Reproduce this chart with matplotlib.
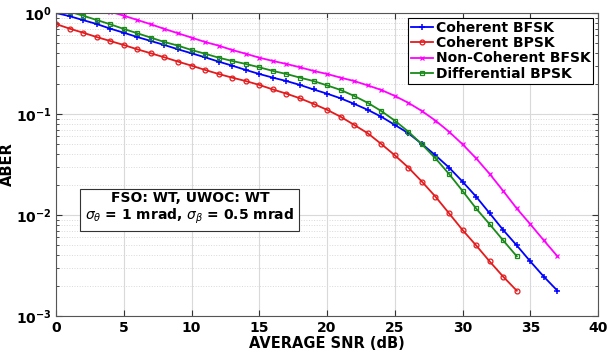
import numpy as np
import matplotlib
matplotlib.use("Agg")
import matplotlib.pyplot as plt
from matplotlib.ticker import FixedLocator, FuncFormatter, LogLocator, NullFormatter

# ABER values
snr_coh_bfsk = list(range(0, 38))
coh_bfsk = [1.0, 0.93, 0.85, 0.778, 0.70, 0.638, 0.578, 0.528, 0.482, 0.437,
            0.399, 0.364, 0.33, 0.301, 0.273, 0.249, 0.229, 0.212, 0.194, 0.175,
            0.159, 0.143, 0.126, 0.11, 0.094, 0.078, 0.0645, 0.0505, 0.039, 0.0295,
            0.0214, 0.0152, 0.0104, 0.0071, 0.005, 0.00347, 0.00245, 0.00178]

snr_coh_bpsk = list(range(0, 35))
coh_bpsk = [0.778, 0.70, 0.638, 0.578, 0.528, 0.482, 0.437, 0.399, 0.364, 0.33,
            0.301, 0.273, 0.249, 0.229, 0.212, 0.194, 0.175, 0.159, 0.143, 0.126,
            0.11, 0.094, 0.078, 0.0645, 0.0505, 0.039, 0.0295, 0.0214, 0.0152, 0.0104,
            0.0071, 0.005, 0.00347, 0.00245, 0.00178]

snr_nc_bfsk = list(range(4, 38))
nc_bfsk = [1.03, 0.94, 0.853, 0.773, 0.695, 0.63, 0.57, 0.516, 0.475, 0.43,
           0.395, 0.361, 0.335, 0.313, 0.29, 0.267, 0.249, 0.229, 0.212, 0.192,
           0.173, 0.151, 0.129, 0.107, 0.086, 0.0668, 0.0501, 0.0364, 0.0255, 0.0173,
           0.0116, 0.0081, 0.0056, 0.0039]

snr_diff_bpsk = list(range(1, 35))
diff_bpsk = [1.03, 0.94, 0.853, 0.773, 0.695, 0.63, 0.57, 0.516, 0.475, 0.43,
             0.395, 0.361, 0.335, 0.313, 0.29, 0.267, 0.249, 0.229, 0.212, 0.192,
             0.173, 0.151, 0.129, 0.107, 0.086, 0.0668, 0.0501, 0.0364, 0.0255, 0.0173,
             0.0116, 0.0081, 0.0056, 0.0039]

x_ticks = [0, 5, 10, 15, 20, 25, 30, 35, 40]

fig = plt.figure(figsize=(6.07, 3.59), dpi=100)
ax = fig.add_axes([0.0923, 0.1198, 0.893, 0.844])

ax.semilogy(snr_coh_bfsk, coh_bfsk, color="#0000FF", marker="+", ms=4.5, mew=1.1,
            lw=1.3, label="Coherent BFSK")
ax.semilogy(snr_coh_bpsk, coh_bpsk, color="#E41A1C", marker="o", ms=3.5, mfc="none",
            mew=0.9, lw=1.3, label="Coherent BPSK")
ax.semilogy(snr_nc_bfsk, nc_bfsk, color="#FF00FF", marker="x", ms=3.5, mew=0.9,
            lw=1.3, label="Non-Coherent BFSK")
ax.semilogy(snr_diff_bpsk, diff_bpsk, color="#1A8A1A", marker="s", ms=3.2, mfc="none",
            mew=0.9, lw=1.3, label="Differential BPSK")

ax.set_xlim(0, 40)
ax.set_ylim(1e-3, 1)
ax.xaxis.set_major_locator(FixedLocator(x_ticks))
ax.yaxis.set_major_locator(LogLocator(base=10, numticks=10))
ax.yaxis.set_minor_locator(LogLocator(base=10, subs=np.arange(2, 10), numticks=10))
ax.yaxis.set_minor_formatter(NullFormatter())
ax.yaxis.set_major_formatter(FuncFormatter(
    lambda v, p: r"$\mathbf{10^{%d}}$" % int(round(np.log10(v)))))
ax.xaxis.set_major_formatter(FuncFormatter(lambda v, p: "%d" % v))

ax.grid(True, which="major", color="#d9d9d9", lw=0.8, ls="-")
ax.grid(True, which="minor", axis="y", color="#d9d9d9", lw=0.7, ls=":")
ax.set_axisbelow(True)

ax.tick_params(which="both", direction="in", top=True, right=True, colors="#333333",
               labelcolor="black", labelsize=10)
ax.tick_params(which="major", length=4)
ax.tick_params(which="minor", length=2.5)
ax.tick_params(axis="y", pad=3)
for lbl in ax.get_xticklabels():
    lbl.set_fontweight("bold")
for s in ax.spines.values():
    s.set_color("#555555")
    s.set_linewidth(0.8)

ax.set_xlabel("AVERAGE SNR (dB)", fontsize=10.5, fontweight="bold", labelpad=1)
ax.set_ylabel("ABER", fontsize=10.5, fontweight="bold", labelpad=1)

leg = ax.legend(loc="upper right", prop={"weight": "bold", "size": 10},
                handlelength=1.6, handletextpad=0.2, borderpad=0.2,
                labelspacing=0.1, fancybox=False, framealpha=1,
                borderaxespad=0.35)
leg.get_frame().set_edgecolor("black")
leg.get_frame().set_linewidth(0.8)

ax.text(0.247, 0.355, "FSO: WT, UWOC: WT\n"
        r"$\sigma_\theta$ = 1 mrad, $\sigma_\beta$ = 0.5 mrad",
        transform=ax.transAxes, ha="center", va="center", fontsize=10,
        fontweight="bold", linespacing=1.15,
        bbox=dict(boxstyle="square,pad=0.35", fc="white", ec="#333333", lw=0.8))

fig.savefig("out.png", dpi=100)
